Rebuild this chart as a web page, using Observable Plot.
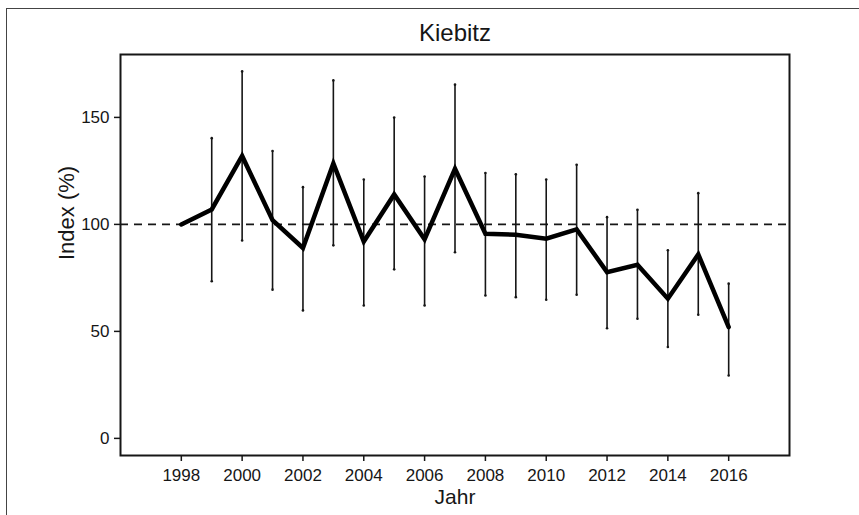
<!DOCTYPE html>
<html>
<head>
<meta charset="utf-8">
<script src="https://cdn.jsdelivr.net/npm/d3@7"></script>
<script src="https://cdn.jsdelivr.net/npm/@observablehq/plot@0.6"></script>
<style>
  html, body { margin: 0; padding: 0; background: #fff; }
  #wrap { position: relative; width: 859px; height: 515px; overflow: hidden; }
  #border { position: absolute; left: 6px; top: 8px; width: 900px; height: 600px;
            border-left: 1.5px solid #444; border-top: 1.5px solid #444; }
  #chart { position: absolute; left: 0; top: 0; }
</style>
</head>
<body>
<div id="wrap"><div id="border"></div><div id="chart"></div></div>
<script>
const title = "Kiebitz";
const xLabel = "Jahr";
const yLabel = "Index (%)";
const years = [1998, 1999, 2000, 2001, 2002, 2003, 2004, 2005, 2006, 2007, 2008, 2009, 2010, 2011, 2012, 2013, 2014, 2015, 2016];
const index = [100, 107, 132, 102, 89, 128.5, 92, 114, 93, 126, 95.6, 95.2, 93.3, 97.7, 77.7, 81.1, 65.3, 86, 52];
const lower = [null, 73.4, 92.5, 69.5, 59.8, 90.2, 62.1, 79, 62.1, 87, 66.8, 66, 64.8, 67.1, 51.5, 55.9, 42.7, 57.8, 29.4];
const upper = [null, 140.3, 171.5, 134.3, 117.4, 167.3, 121, 149.9, 122.4, 165.3, 124, 123.4, 121, 127.9, 103.4, 106.8, 87.9, 114.6, 72.3];
const xTicks = [1998, 2000, 2002, 2004, 2006, 2008, 2010, 2012, 2014, 2016];
const yTicks = [0, 50, 100, 150];

const data = years.map((y, i) => ({year: y, index: index[i], lo: lower[i], hi: upper[i]}));
const bars = data.filter(d => d.lo != null);
const ends = bars.flatMap(d => [{year: d.year, v: d.lo}, {year: d.year, v: d.hi}]);

const ink = "#161616";
const chart = Plot.plot({
  width: 859,
  height: 515,
  marginLeft: 120,
  marginRight: 70,
  marginTop: 54,
  marginBottom: 60,
  style: {fontFamily: "'Liberation Sans', Arial, Helvetica, sans-serif", fontSize: "17px", color: ink, background: "transparent", overflow: "visible"},
  x: {domain: [1996, 2018]},
  y: {domain: [-8, 179.4]},
  marks: [
    Plot.ruleY([100], {stroke: ink, strokeWidth: 1.6, strokeDasharray: "8,6"}),
    Plot.ruleX(bars, {x: "year", y1: "lo", y2: "hi", stroke: ink, strokeWidth: 1.6}),
    Plot.dot(ends, {x: "year", y: "v", r: 1.3, fill: ink, stroke: null}),
    Plot.line(data, {x: "year", y: "index", stroke: "#000", strokeWidth: 4.5, strokeLinejoin: "miter", strokeMiterlimit: 10}),
    Plot.frame({stroke: ink, strokeWidth: 2}),
    Plot.axisX({ticks: xTicks, tickFormat: d => String(d), tickSize: 6, tickPadding: 7, strokeWidth: 1.5, label: null, fontSize: 17}),
    Plot.axisY({ticks: yTicks, tickSize: 6, tickPadding: 5, strokeWidth: 1.5, label: null, fontSize: 17}),
    Plot.text([title], {frameAnchor: "top", lineAnchor: "bottom", dy: -14, fontSize: 24, fill: ink}),
    Plot.text([xLabel], {frameAnchor: "bottom", lineAnchor: "bottom", dy: 48, fontSize: 21, fill: ink}),
    Plot.text([yLabel], {frameAnchor: "left", lineAnchor: "bottom", rotate: -90, dx: -47, dy: 5, fontSize: 22, fill: ink})
  ]
});
document.getElementById("chart").appendChild(chart);
</script>
</body>
</html>
